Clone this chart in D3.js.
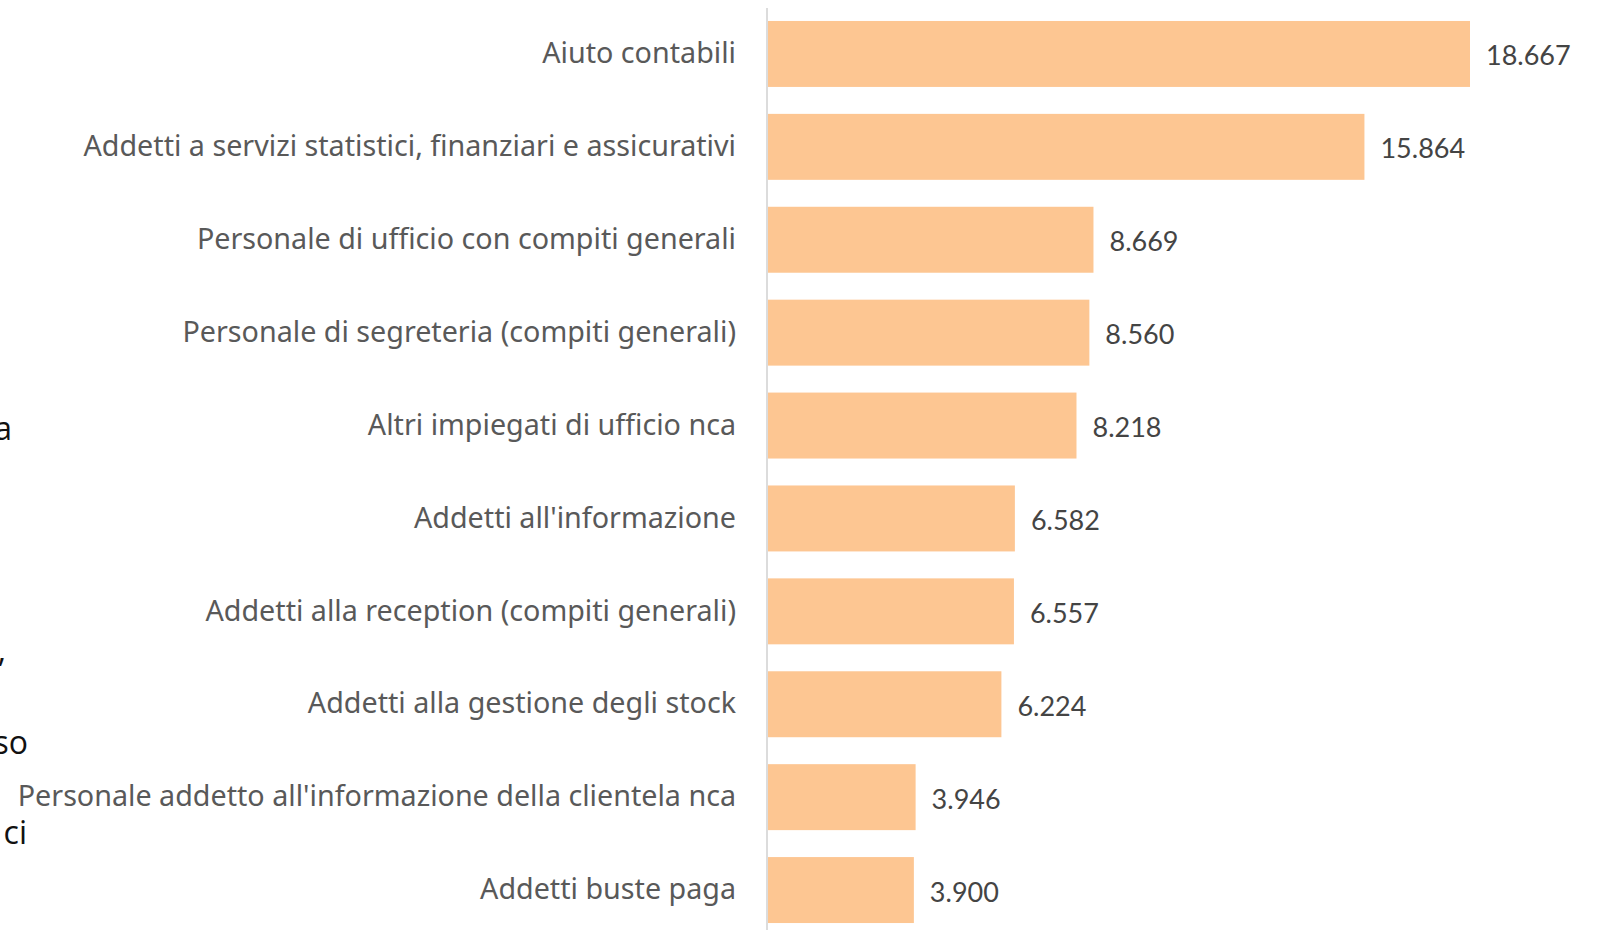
<!DOCTYPE html>
<html>
<head>
<meta charset="utf-8">
<title>Impiegati</title>
<style>
  body { margin: 0; background: #fff; }
  svg { display: block; }
</style>
</head>
<body>

<div id="my_dataviz"></div>

<script src="https://d3js.org/d3.v7.min.js"></script>
<script>

    // categories and values
    var categories = [
      "Aiuto contabili",
      "Addetti a servizi statistici, finanziari e assicurativi",
      "Personale di ufficio con compiti generali",
      "Personale di segreteria (compiti generali)",
      "Altri impiegati di ufficio nca",
      "Addetti all'informazione",
      "Addetti alla reception (compiti generali)",
      "Addetti alla gestione degli stock",
      "Personale addetto all'informazione della clientela nca",
      "Addetti buste paga"
    ];
    var values = [18667, 15864, 8669, 8560, 8218, 6582, 6557, 6224, 3946, 3900];

    // cut off text at the left border (from a neighbouring block)
    var fragments = ["a", ",", "so", "ci"];
    var fragmentY = [440, 662, 754, 844];
    var fragmentEnd = [12, 6, 28, 27];

    var width = 1598, height = 930;
    var axisX = 767;

    var svg = d3.select("#my_dataviz")
      .append("svg")
        .attr("width", width)
        .attr("height", height);

    var x = d3.scaleLinear()
      .domain([0, d3.max(values)])
      .range([axisX, 1470]);

    var y = d3.scaleBand()
      .domain(categories)
      .range([7.5, 936.5])
      .paddingInner(0.29)
      .paddingOuter(0.145);

    var fmt = function(v) { return d3.format(",")(v).replace(/,/g, "."); };

    // bars
    svg.selectAll(".bar")
      .data(values)
      .enter()
      .append("rect")
        .attr("class", "bar")
        .attr("x", x(0))
        .attr("y", function(d, i) { return y(categories[i]); })
        .attr("width", function(d) { return x(d) - x(0); })
        .attr("height", y.bandwidth())
        .attr("fill", "#fdc692");

    // vertical axis line
    svg.append("line")
      .attr("x1", axisX).attr("x2", axisX)
      .attr("y1", 8).attr("y2", height)
      .attr("stroke", "#dcdcdc")
      .attr("stroke-width", 2);

    // category labels
    svg.selectAll(".cat")
      .data(categories)
      .enter()
      .append("text")
        .attr("class", "cat")
        .attr("x", 736)
        .attr("y", function(d) { return y(d) + y.bandwidth() / 2; })
        .attr("dy", "0.32em")
        .attr("text-anchor", "end")
        .style("font-family", "'Noto Sans', sans-serif")
        .style("font-size", "28.7px")
        .attr("fill", "#595959")
        .text(function(d) { return d; });

    // value labels
    svg.selectAll(".val")
      .data(values)
      .enter()
      .append("text")
        .attr("class", "val")
        .attr("x", function(d) { return x(d) + 16; })
        .attr("y", function(d, i) { return y(categories[i]) + y.bandwidth() / 2 + 2; })
        .attr("dy", "0.35em")
        .style("font-family", "Lato, 'Noto Sans', sans-serif")
        .style("font-size", "27px")
        .attr("fill", "#444")
        .text(function(d) { return fmt(d); });

    // clipped text at the left edge
    svg.selectAll(".frag")
      .data(fragments)
      .enter()
      .append("text")
        .attr("class", "frag")
        .attr("x", function(d, i) { return fragmentEnd[i]; })
        .attr("y", function(d, i) { return fragmentY[i]; })
        .attr("text-anchor", "end")
        .style("font-family", "'Open Sans', sans-serif")
        .style("font-size", "32px")
        .attr("fill", "#111")
        .text(function(d) { return d; });

</script>
</body>
</html>
